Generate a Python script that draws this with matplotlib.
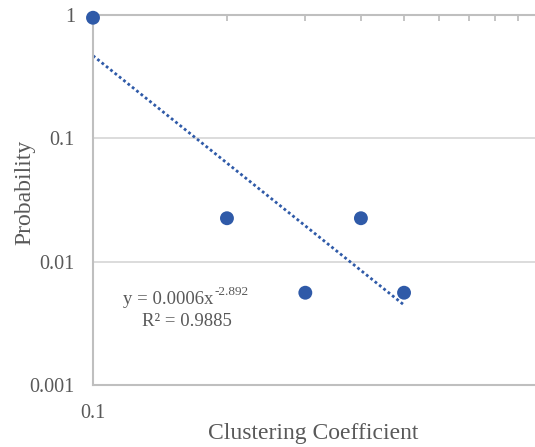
import numpy as np
import matplotlib
matplotlib.use("Agg")
import matplotlib.pyplot as plt
from matplotlib.ticker import FixedLocator, NullFormatter

plt.rcParams["font.family"] = ["Liberation Serif", "DejaVu Serif"]

# clustering coefficient vs. probability
coef = [0.1, 0.2, 0.3, 0.4, 0.5]
prob = [0.95, 0.0225, 0.0056, 0.0225, 0.0056]

# power trendline y = a * x^b
fit_a = 0.0006
fit_b = -2.892
fit_r2 = 0.9885

y_ticks = [0.001, 0.01, 0.1, 1]
y_labels = ["0.001", "0.01", "0.1", "1"]

TEXT = "#595959"
AXIS = "#bfbfbf"
GRID = "#d9d9d9"
BLUE = "#2f5aa8"

fig = plt.figure(figsize=(5.35, 4.47), dpi=100)
ax = fig.add_axes([93 / 535, 1 - 385 / 447, 445 / 535, 370 / 447])
ax.set_xscale("log")
ax.set_yscale("log")
ax.set_xlim(0.1, 1)
ax.set_ylim(0.001, 1)

# grid
for yv in y_ticks[1:-1]:
    ax.axhline(yv, color=GRID, lw=1.3, zorder=0)

# trendline over the data range
xt = np.linspace(min(coef), max(coef), 200)
ax.plot(xt, fit_a * xt ** fit_b, color=BLUE, lw=2.0,
        linestyle=(0, (1, 1.0)), dash_capstyle="butt", zorder=2)

ax.scatter(coef, prob, s=100, color=BLUE, edgecolors="none", zorder=3,
           clip_on=False)

# axes styling
for side in ["left", "top", "bottom"]:
    ax.spines[side].set_color(AXIS)
    ax.spines[side].set_linewidth(1.5)
ax.spines["right"].set_visible(False)

ax.yaxis.set_major_locator(FixedLocator(y_ticks))
ax.set_yticklabels(y_labels)
ax.yaxis.set_minor_locator(FixedLocator([]))
ax.tick_params(axis="y", which="major", length=0, pad=13,
               labelsize=14.5, labelcolor=TEXT)

ax.xaxis.set_major_locator(FixedLocator([0.1]))
ax.set_xticklabels(["0.1"])
ax.xaxis.set_minor_locator(FixedLocator([0.2, 0.3, 0.4, 0.5, 0.6, 0.7, 0.8, 0.9]))
ax.xaxis.set_minor_formatter(NullFormatter())
ax.tick_params(axis="x", which="major", length=0, pad=14,
               labelsize=14.5, labelcolor=TEXT)
ax.tick_params(axis="x", which="minor", bottom=False, top=True,
               direction="in", length=4, width=1.3, color=AXIS)

# trendline equation, exponent set as a raised smaller text
eq = fig.text(123 / 535, 1 - 299 / 447, "y = %.4fx" % fit_a,
              ha="left", va="center", fontsize=13.5, color=TEXT)
ax.annotate("%.3f" % fit_b, xy=(1, 1), xycoords=eq,
            xytext=(0.5, 3), textcoords="offset points",
            ha="left", va="top", fontsize=9.5, color=TEXT)
fig.text(187 / 535, 1 - 321 / 447, "R² = %.4f" % fit_r2,
         ha="center", va="center", fontsize=13.5, color=TEXT)

fig.text(313 / 535, 1 - 434 / 447, "Clustering Coefficient",
         ha="center", va="center", fontsize=17, color=TEXT)
fig.text(25 / 535, 1 - 192 / 447, "Probability", rotation=90,
         ha="center", va="center", fontsize=17, color=TEXT)

fig.savefig("out.png", dpi=100)
